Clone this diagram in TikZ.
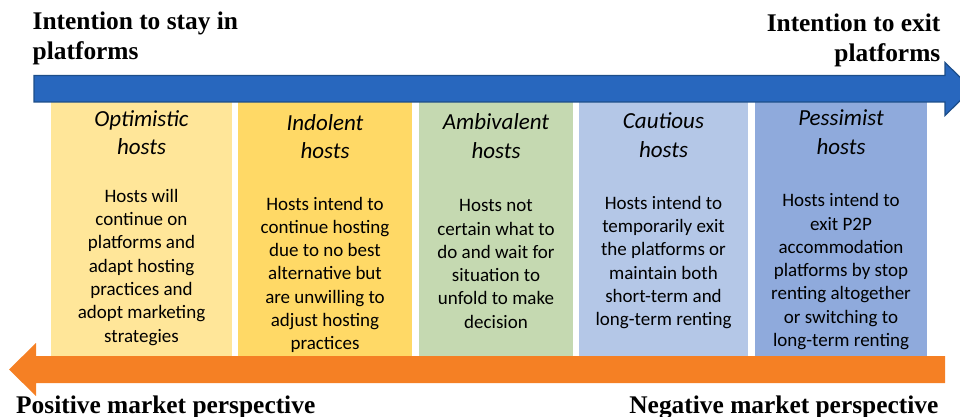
\documentclass[tikz,border=0pt]{standalone}
\usepackage{fontspec}
\setmainfont{Liberation Serif}
\newfontfamily\cf{Carlito}
\newcommand\stk[2][c]{\begin{tabular}[t]{@{}#1@{}}#2\end{tabular}}
\definecolor{cOpt}{HTML}{FFE699}
\definecolor{cInd}{HTML}{FFD966}
\definecolor{cAmb}{HTML}{C5D9B1}
\definecolor{cCau}{HTML}{B4C7E7}
\definecolor{cPes}{HTML}{8FAADC}
\definecolor{cBlue}{HTML}{2867BE}
\definecolor{cBlueDark}{HTML}{1D4E89}
\definecolor{cOrange}{HTML}{F58024}
\tikzset{
  hostbox/.style={draw=none, inner sep=0, minimum height=254pt, anchor=north west},
  ttl/.style={font=\cf\itshape\fontsize{23}{28.7}\selectfont, inner sep=0, anchor=base},
  bodytxt/.style={font=\cf\fontsize{19}{23.3}\selectfont, inner sep=0, anchor=base},
  big/.style={font=\bfseries\fontsize{25.4}{29.6}\selectfont, inner sep=0},
}
\begin{document}
\begin{tikzpicture}[x=1pt, y=-1pt]
\useasboundingbox (0,0) rectangle (960,417);
\clip (0,0) rectangle (960,417);
% boxes
\node[hostbox, fill=cOpt, minimum width=181pt] (b1) at (51,102) {};
\node[hostbox, fill=cInd, minimum width=174pt] (b2) at (238,102) {};
\node[hostbox, fill=cAmb, minimum width=154pt] (b3) at (419,102) {};
\node[hostbox, fill=cCau, minimum width=169pt] (b4) at (579,102) {};
\node[hostbox, fill=cPes, minimum width=172pt] (b5) at (755,102) {};
% blue arrow
\coordinate (bs1) at (34,75.5);
\coordinate (bs2) at (945,75.5);
\coordinate (bh1) at (945,62.5);
\coordinate (btip) at (972,89);
\coordinate (bh2) at (945,115.5);
\coordinate (bs3) at (945,102);
\coordinate (bs4) at (34,102);
\draw[fill=cBlue, draw=cBlueDark, line width=1.2pt, line join=miter]
  (bs1) -- (bs2) -- (bh1) -- (btip) -- (bh2) -- (bs3) -- (bs4) -- cycle;
% orange arrow
\coordinate (os1) at (945,356);
\coordinate (os2) at (36,356);
\coordinate (oh1) at (36,343);
\coordinate (otip) at (9,369.5);
\coordinate (oh2) at (36,396);
\coordinate (os3) at (36,383);
\coordinate (os4) at (945,383);
\fill[cOrange] (os1) -- (os2) -- (oh1) -- (otip) -- (oh2) -- (os3) -- (os4) -- cycle;
% header / footer labels
\node[big, anchor=base west] (stay) at (32.5,29.5) {\stk[l]{Intention to stay in\\platforms}};
\node[big, anchor=base east] (exit) at (940.5,32) {\stk[r]{Intention to exit\\platforms}};
\node[big, anchor=base west] (pos) at (16,413.5) {Positive market perspective};
\node[big, anchor=base east] (neg) at (938.5,413.5) {Negative market perspective};
% titles
\node[ttl] (t1) at (141.5,126) {\stk{Optimistic\\hosts}};
\node[ttl] (t2) at (325,130) {\stk{Indolent\\hosts}};
\node[ttl] (t3) at (496,129.5) {\stk{Ambivalent\\hosts}};
\node[ttl] (t4) at (663.5,128.3) {\stk{Cautious\\hosts}};
\node[ttl] (t5) at (841,125.7) {\stk{Pessimist\\hosts}};
% bodies
\node[bodytxt] (d1) at (141.5,202.3) {\stk{Hosts will\\continue on\\platforms and\\adapt hosting\\practices and\\adopt marketing\\strategies}};
\node[bodytxt] (d2) at (325,210) {\stk{Hosts intend to\\continue hosting\\due to no best\\alternative but\\are unwilling to\\adjust hosting\\practices}};
\node[bodytxt] (d3) at (496,211.7) {\stk{Hosts not\\certain what to\\do and wait for\\situation to\\unfold to make\\decision}};
\node[bodytxt] (d4) at (663.5,209.3) {\stk{Hosts intend to\\temporarily exit\\the platforms or\\maintain both\\short-term and\\long-term renting}};
\node[bodytxt] (d5) at (841,206.7) {\stk{Hosts intend to\\exit P2P\\accommodation\\platforms by stop\\renting altogether\\or switching to\\long-term renting}};
\end{tikzpicture}
\end{document}
